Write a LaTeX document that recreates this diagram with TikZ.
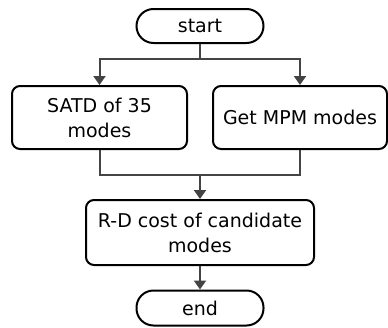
\documentclass[tikz,border=0pt]{standalone}
\usepackage{fontspec}
\setmainfont{DejaVu Sans}
\usetikzlibrary{arrows.meta}
\definecolor{linegray}{HTML}{444444}
\begin{document}
\begin{tikzpicture}[x=1pt,y=-1pt,
  box/.style={draw=black,line width=2pt,rounded corners=8pt,align=center,
    inner sep=0pt,font=\fontsize{19}{25}\selectfont},
  term/.style={box,rounded corners=17pt,minimum width=127pt,minimum height=34pt},
  conn/.style={draw=linegray,line width=2pt},
  arr/.style={conn,-{Triangle[length=9pt,width=12pt]}}]
\useasboundingbox (0,0) rectangle (388,327);
\node[term] (start) at (200,26) {start};
\node[box,minimum width=175pt,minimum height=63pt] (sat) at (99.5,117.5) {SATD of 35\\modes};
\node[box,minimum width=174pt,minimum height=63pt] (mpm) at (300,117.5) {Get MPM modes};
\node[box,minimum width=228pt,minimum height=65pt] (rd) at (200,232.5) {R-D cost of candidate\\modes};
\node[term,minimum height=35pt] (end) at (200,308) {end};
\coordinate (j1) at (200,59);
\coordinate (j2) at (200,175);
\draw[conn] (start) -- (j1);
\draw[arr] (j1) -| (sat);
\draw[arr] (j1) -| (mpm);
\draw[conn] (sat) |- (j2);
\draw[conn] (mpm) |- (j2);
\draw[arr] (j2) -- (rd);
\draw[arr] (rd) -- (end);
\end{tikzpicture}
\end{document}
